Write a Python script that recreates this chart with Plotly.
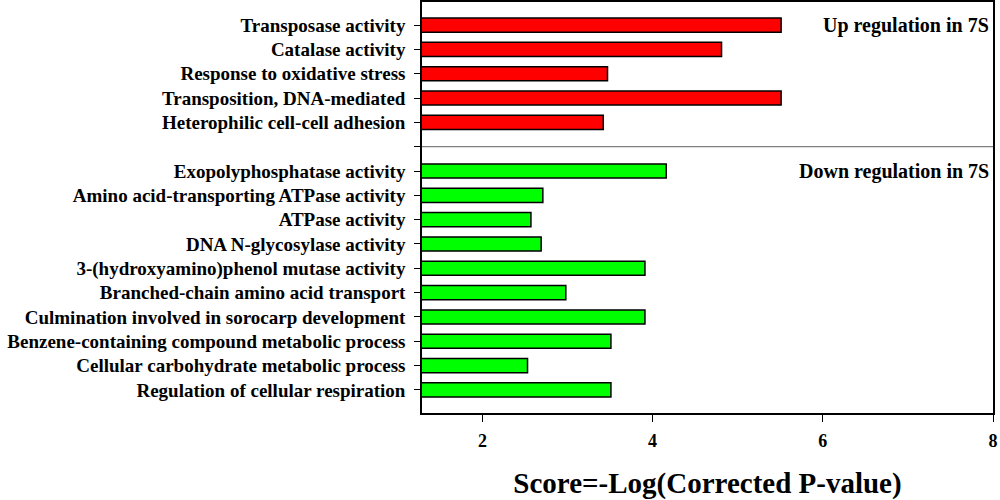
import plotly.graph_objects as go

# GO terms, top to bottom
up_terms = [
    "Transposase activity",
    "Catalase activity",
    "Response to oxidative stress",
    "Transposition, DNA-mediated",
    "Heterophilic cell-cell adhesion",
]
up_scores = [5.51, 4.81, 3.47, 5.51, 3.42]

down_terms = [
    "Exopolyphosphatase activity",
    "Amino acid-transporting ATPase activity",
    "ATPase activity",
    "DNA N-glycosylase activity",
    "3-(hydroxyamino)phenol mutase activity",
    "Branched-chain amino acid transport",
    "Culmination involved in sorocarp development",
    "Benzene-containing compound metabolic process",
    "Cellular carbohydrate metabolic process",
    "Regulation of cellular respiration",
]
down_scores = [4.16, 2.71, 2.57, 2.69, 3.91, 2.98, 3.91, 3.51, 2.53, 3.51]

x_ticks = [2, 4, 6, 8]

sep = " "  # empty slot between the two groups
categories = up_terms + [sep] + down_terms

serif = "Liberation Serif"
font = dict(family=serif, size=19, color="#000000")

fig = go.Figure()
fig.add_trace(go.Bar(
    y=up_terms, x=up_scores, orientation="h",
    marker=dict(color="#ff0000", line=dict(color="#000000", width=1.5)),
    width=0.58, name="Up",
))
fig.add_trace(go.Bar(
    y=down_terms, x=down_scores, orientation="h",
    marker=dict(color="#00ff00", line=dict(color="#000000", width=1.5)),
    width=0.58, name="Down",
))

# separator line between groups
n_up = len(up_terms)
fig.add_shape(type="line", xref="x domain", yref="y",
              x0=0, x1=1, y0=n_up, y1=n_up,
              line=dict(color="#808080", width=1.2))

ann_font = dict(family=serif, size=20, color="#000000")
fig.add_annotation(text="<b>Up regulation in 7S</b>", xref="x domain", yref="y",
                   x=0.996, y=up_terms[0], xanchor="right", yanchor="middle",
                   showarrow=False, font=ann_font)
fig.add_annotation(text="<b>Down regulation in 7S</b>", xref="x domain", yref="y",
                   x=0.996, y=down_terms[0], xanchor="right", yanchor="middle",
                   showarrow=False, font=ann_font)

fig.update_layout(
    width=1000, height=500,
    margin=dict(l=422, r=7, t=2, b=87),
    paper_bgcolor="white", plot_bgcolor="white",
    showlegend=False,
    font=font,
    xaxis=dict(
        range=[1.29, 8], tickvals=x_ticks, ticktext=[f"<b>{t}</b>" for t in x_ticks],
        tickfont=dict(family=serif, size=18, color="#000000"),
        ticks="outside", ticklen=7, tickwidth=1.2, tickcolor="#000000",
        ticklabelstandoff=4,
        showline=True, linecolor="#000000", linewidth=1.5, mirror=True,
        showgrid=False, zeroline=False, automargin=False,
        title=dict(text="<b>Score=-Log(Corrected P-value)</b>",
                   font=dict(family=serif, size=29, color="#000000"),
                   standoff=33),
    ),
    yaxis=dict(
        type="category", categoryorder="array", categoryarray=categories,
        tickvals=categories, ticktext=[f"<b>{c}</b>" for c in categories],
        range=[len(categories) - 0.05, -0.95],
        ticks="outside", ticklen=6, tickwidth=1.2, tickcolor="#000000",
        ticklabelstandoff=5, automargin=False,
        showline=True, linecolor="#000000", linewidth=1.5, mirror=True,
        showgrid=False, zeroline=False,
    ),
)

fig.write_html("out.html", config={"displayModeBar": False},
               post_script="document.body.style.margin='0';")
